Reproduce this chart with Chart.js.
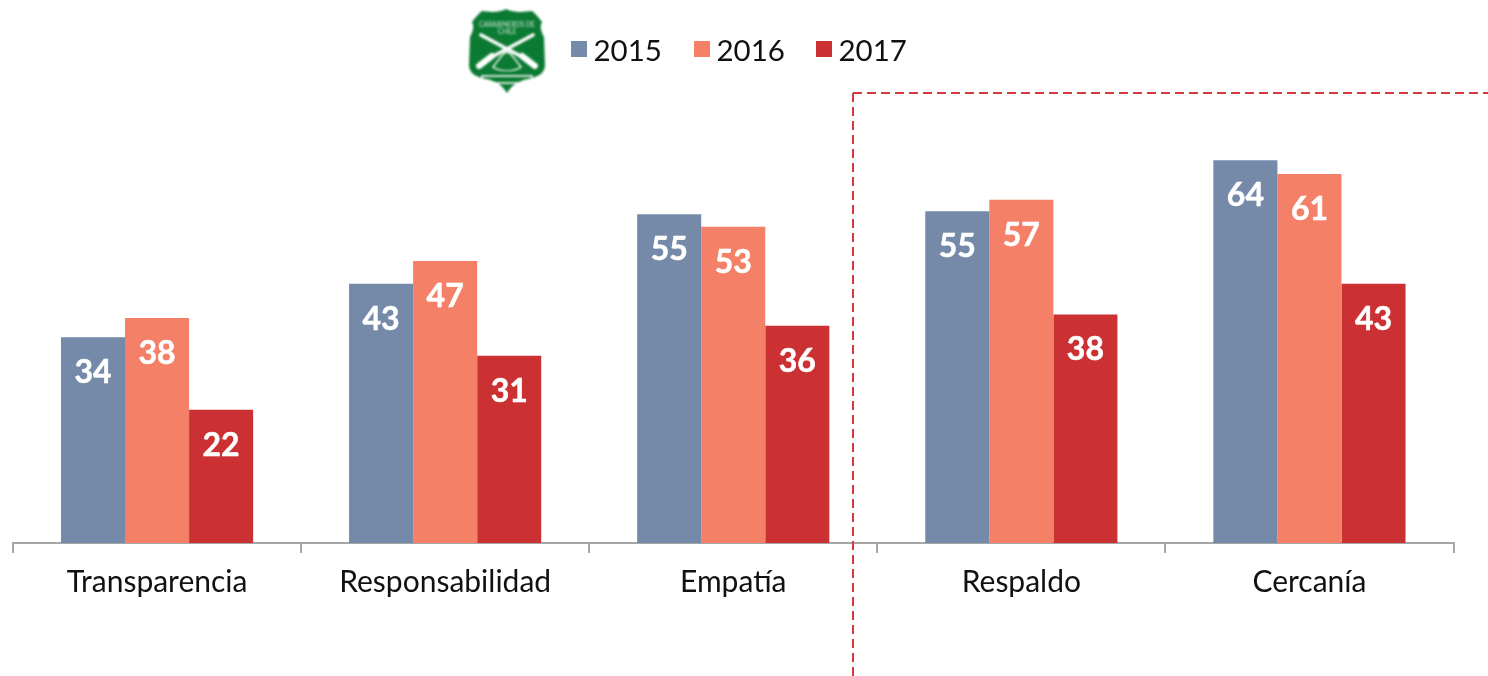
<!DOCTYPE html>
<html><head><meta charset="utf-8">
<style>
html,body{margin:0;padding:0;background:#fff;width:1488px;height:676px;overflow:hidden}
#wrap{position:relative;width:1488px;height:676px}
canvas{position:absolute;left:0;top:0}
#legend{position:absolute;left:0;top:0;font-family:Lato,sans-serif;font-size:29.5px;color:#111}
#legend span.t{position:absolute;line-height:36px;top:32px}
#legend span.b{position:absolute;top:41px;width:16px;height:16px}
#logo{position:absolute;left:466px;top:6px;filter:blur(.9px)}
</style></head><body>
<div id="wrap">
<canvas id="c" width="1488" height="676"></canvas>
<div id="legend"></div>
<svg id="logo" width="82" height="90" viewBox="0 0 82 90">
  <path d="M40 3 C48 7 58 6 66 5 C70 8 73 12 76 16 C73 21 76 27 78 31 L79 60 C78 67 73 71 62 73 C52 75 46 79 41 87 C36 79 30 75 20 73 C9 71 4 67 3 60 L4 31 C6 27 9 21 6 16 C9 12 12 8 16 5 C24 6 32 7 40 3Z" fill="#0b7a32"/>
  <g stroke="#fff" stroke-linecap="round" fill="none">
    <path d="M15 29 L60 53" stroke-width="3.6"/>
    <path d="M67 29 L22 53" stroke-width="3.6"/>
    <path d="M56 50 L69 60" stroke-width="6"/>
    <path d="M26 50 L13 60" stroke-width="6"/>
    <path d="M27 61 C33 54 36 47 41 46 C46 47 49 54 55 61" stroke-width="1.4"/>
    <path d="M27 61 C34 66 48 66 55 61" stroke-width="1.2"/>
    <rect x="16" y="70" width="50" height="7" stroke-width="1.6"/>
  </g>
  <text x="41" y="21" text-anchor="middle" font-family="Lato" font-size="6.6" fill="#cfe6d6">CARABINEROS DE</text>
  <text x="41" y="28" text-anchor="middle" font-family="Lato" font-size="6.6" fill="#cfe6d6">CHILE</text>
</svg>
</div>
<script src="https://cdn.jsdelivr.net/npm/chart.js@4"></script>
<script>
const categories = ["Transparencia","Responsabilidad","Empatía","Respaldo","Cercanía"];
const years = ["2015","2016","2017"];
const values2015 = [34.3,43.2,54.8,55.3,63.8];
const values2016 = [37.5,47.0,52.7,57.2,61.5];
const values2017 = [22.2,31.2,36.2,38.1,43.2];
const shownLabels = [
  [34,43,55,55,64],
  [38,47,53,57,61],
  [22,31,36,38,43]
];
const colors = ["#758aa8","#f38067","#cb3033"];

const valueLabels = {
  id:"valueLabels",
  afterDatasetsDraw(chart){
    const ctx = chart.ctx;
    ctx.save();
    ctx.font = "700 32px Lato";
    ctx.fillStyle = "#fff";
    ctx.strokeStyle = "#fff";
    ctx.lineWidth = 0.5;
    ctx.textAlign = "center";
    ctx.textBaseline = "middle";
    chart.data.datasets.forEach((ds,i)=>{
      chart.getDatasetMeta(i).data.forEach((bar,j)=>{
        const s = String(shownLabels[i][j]);
        ctx.fillText(s, bar.x, bar.y+35.5);
        ctx.strokeText(s, bar.x, bar.y+35.5);
      });
    });
    ctx.restore();
  }
};
const divider = {
  id:"divider",
  afterDraw(chart){
    const ctx = chart.ctx;
    ctx.save();
    ctx.strokeStyle = "#d5393f";
    ctx.lineWidth = 2;
    ctx.setLineDash([9,5]);
    ctx.beginPath();
    ctx.moveTo(853,93); ctx.lineTo(1488,93);
    ctx.moveTo(853,93); ctx.lineTo(853,676);
    ctx.stroke();
    ctx.restore();
  }
};
const chart = new Chart(document.getElementById("c"),{
  type:"bar",
  data:{labels:categories,datasets:[
    {label:years[0],data:values2015,backgroundColor:colors[0]},
    {label:years[1],data:values2016,backgroundColor:colors[1]},
    {label:years[2],data:values2017,backgroundColor:colors[2]}
  ]},
  options:{
    responsive:false,animation:false,
    layout:{padding:{left:13,right:34.5,top:3,bottom:0}},
    datasets:{bar:{categoryPercentage:0.667,barPercentage:1}},
    plugins:{legend:{display:false},tooltip:{enabled:false}},
    scales:{
      y:{display:false,min:0,max:90},
      x:{
        offset:true,
        afterFit(s){s.height=133;},
        border:{color:"#a6a6a6",width:2},
        grid:{offset:true,drawOnChartArea:false,color:"#a6a6a6",lineWidth:2,tickLength:10,drawTicks:true},
        ticks:{color:"#111",font:{family:"Lato",size:30},padding:11,maxRotation:0,autoSkip:false}
      }
    }
  },
  plugins:[valueLabels,divider]
});
const legendX=[571,694,816];
const lg=document.getElementById("legend");
chart.data.datasets.forEach((ds,i)=>{
  const b=document.createElement("span");b.className="b";b.style.left=legendX[i]+"px";b.style.background=ds.backgroundColor;
  const t=document.createElement("span");t.className="t";t.style.left=(legendX[i]+22.5)+"px";t.textContent=ds.label;
  lg.append(b,t);
});
</script>
</body></html>
